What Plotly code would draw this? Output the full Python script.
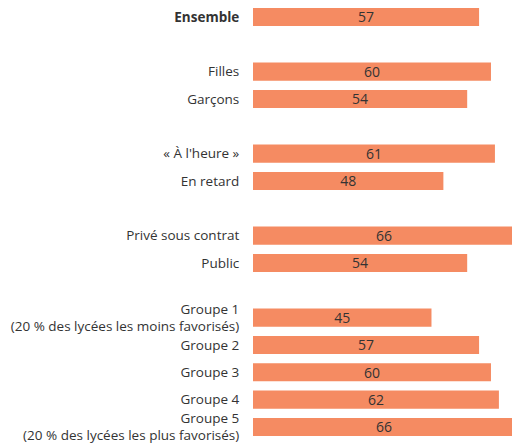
import plotly.graph_objects as go

# Share of students (%) by category, with blank slots separating the groups
labels = [
    "<b>Ensemble</b>",
    "Filles", "Garçons",
    "« À l'heure »", "En retard",
    "Privé sous contrat", "Public",
    "Groupe 1<br>(20 % des lycées les moins favorisés)",
    "Groupe 2", "Groupe 3", "Groupe 4",
    "Groupe 5<br>(20 % des lycées les plus favorisés)",
]
values = [57, 60, 54, 61, 48, 66, 54, 45, 57, 60, 62, 66]
slots = [0, 2, 3, 5, 6, 8, 9, 11, 12, 13, 14, 15]

font_family = "'Open Sans', sans-serif"
text_color = "#333333"
bar_color = "#F58B62"

fig = go.Figure(
    go.Bar(
        x=values,
        y=slots,
        orientation="h",
        width=0.66,
        marker=dict(color=bar_color, line=dict(width=0)),
        text=[str(v) for v in values],
        textposition="inside",
        insidetextanchor="middle",
        textangle=0,
        textfont=dict(family=font_family, size=14, color=text_color),
        cliponaxis=True,
        hoverinfo="skip",
    )
)

fig.update_layout(
    width=512,
    height=445,
    margin=dict(l=253, r=0, t=0, b=0),
    paper_bgcolor="white",
    plot_bgcolor="white",
    showlegend=False,
    uniformtext=dict(minsize=10, mode="show"),
)

fig.update_xaxes(
    range=[0, 65.3],
    visible=False,
    showgrid=False,
    zeroline=False,
)

fig.update_yaxes(
    range=[15.66, -0.62],
    tickmode="array",
    tickvals=slots,
    ticktext=labels,
    ticks="outside",
    ticklen=10,
    tickcolor="rgba(0,0,0,0)",
    tickfont=dict(family=font_family, size=13.5, color=text_color),
    showgrid=False,
    zeroline=False,
    showline=False,
)

fig.write_html("out.html")
